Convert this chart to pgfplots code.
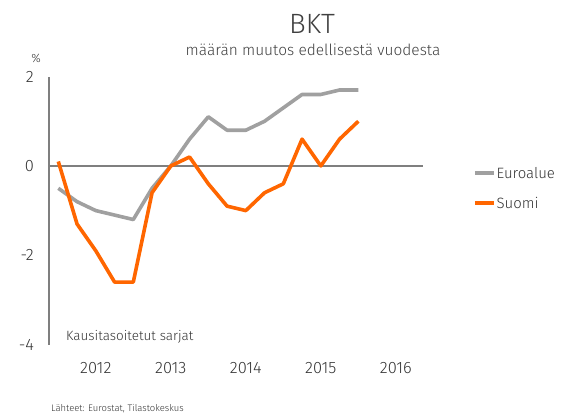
\documentclass[border=0pt]{standalone}
\usepackage{fontspec}
\setmainfont{Fira Sans Light}
\usepackage{pgfplots}
\pgfplotsset{compat=1.18}
\definecolor{orng}{HTML}{FF6600}
\definecolor{gry}{HTML}{A0A0A0}
\definecolor{axgray}{HTML}{7F7F7F}
\definecolor{txt}{HTML}{333333}
\definecolor{ttl}{HTML}{404040}
\begin{document}
\begin{tikzpicture}[x=1bp,y=1bp]
\begin{axis}[
  at={(0,0)}, anchor=south west,
  scale only axis, width=374bp, height=268bp,
  xmin=-0.496, xmax=19.45, ymin=-4, ymax=2,
  axis lines*=left,
  x axis line style={draw=none},
  y axis line style={draw=axgray, line width=1.2bp},
  xtick={2,6,10,14,18}, xticklabels={2012,2013,2014,2015,2016},
  ytick={-4,-2,0,2}, yticklabels={-4,-2,0,2},
  major tick length=0pt,
  tick style={draw=none},
  xticklabel style={anchor=center, yshift=-23.4bp, inner sep=0pt, font=\fontsize{16.5}{20}\selectfont, text=txt},
  yticklabel style={anchor=east, xshift=-15bp, inner sep=0pt, font=\fontsize{16.5}{20}\selectfont, text=txt},
  clip=false,
  legend style={at={(1.1337,0.5843)}, anchor=west, draw=none, fill=none, inner sep=0pt, outer sep=0pt,
    row sep=19.7bp, column sep=1bp,
    nodes={inner sep=0pt, text height=10.3bp, text depth=0bp, font=\fontsize{15}{18}\selectfont, text=txt}},
  legend cell align=left,
  legend image code/.code={\draw[#1] (0bp,0bp) -- (19bp,0bp);},
]
\addplot[draw=axgray, line width=1.2bp, forget plot] coordinates {(-0.496,0) (19.45,0)};
\addplot[draw=gry, line width=3.6bp, line join=round] coordinates {
(0,-0.5) (1,-0.8) (2,-1.0) (3,-1.1) (4,-1.2) (5,-0.5) (6,0.0) (7,0.6) (8,1.1)
(9,0.8) (10,0.8) (11,1.0) (12,1.3) (13,1.6) (14,1.6) (15,1.7) (16,1.7)};
\addlegendentry{Euroalue}
\addplot[draw=orng, line width=3.6bp, line join=round] coordinates {
(0,0.1) (1,-1.3) (2,-1.9) (3,-2.6) (4,-2.6) (5,-0.6) (6,0.0) (7,0.2) (8,-0.4)
(9,-0.9) (10,-1.0) (11,-0.6) (12,-0.4) (13,0.6) (14,0.0) (15,0.6) (16,1.0)};
\addlegendentry{Suomi}
\end{axis}
\node[anchor=base, text=ttl, font=\fontsize{28}{32}\selectfont] at (263,311.6) {BKT};
\node[anchor=base, text=ttl, font=\fontsize{15.5}{18}\selectfont] at (264,289.6) {määrän muutos edellisestä vuodesta};
\node[text=txt, inner sep=0pt, font=\fontsize{12}{14}\selectfont] at (-13,286) {\%};
\node[anchor=base west, inner sep=0pt, text=txt, font=\fontsize{13.5}{16}\selectfont] at (17,4.6) {Kausitasoitetut sarjat};
\node[anchor=west, inner sep=0pt, text=txt, font=\fontsize{9.5}{11}\selectfont] at (2,-64.4) {Lähteet: Eurostat, Tilastokeskus};
\pgfresetboundingbox
\path[use as bounding box] (-49,-71.4) rectangle (513,344.6);
\end{tikzpicture}
\end{document}
